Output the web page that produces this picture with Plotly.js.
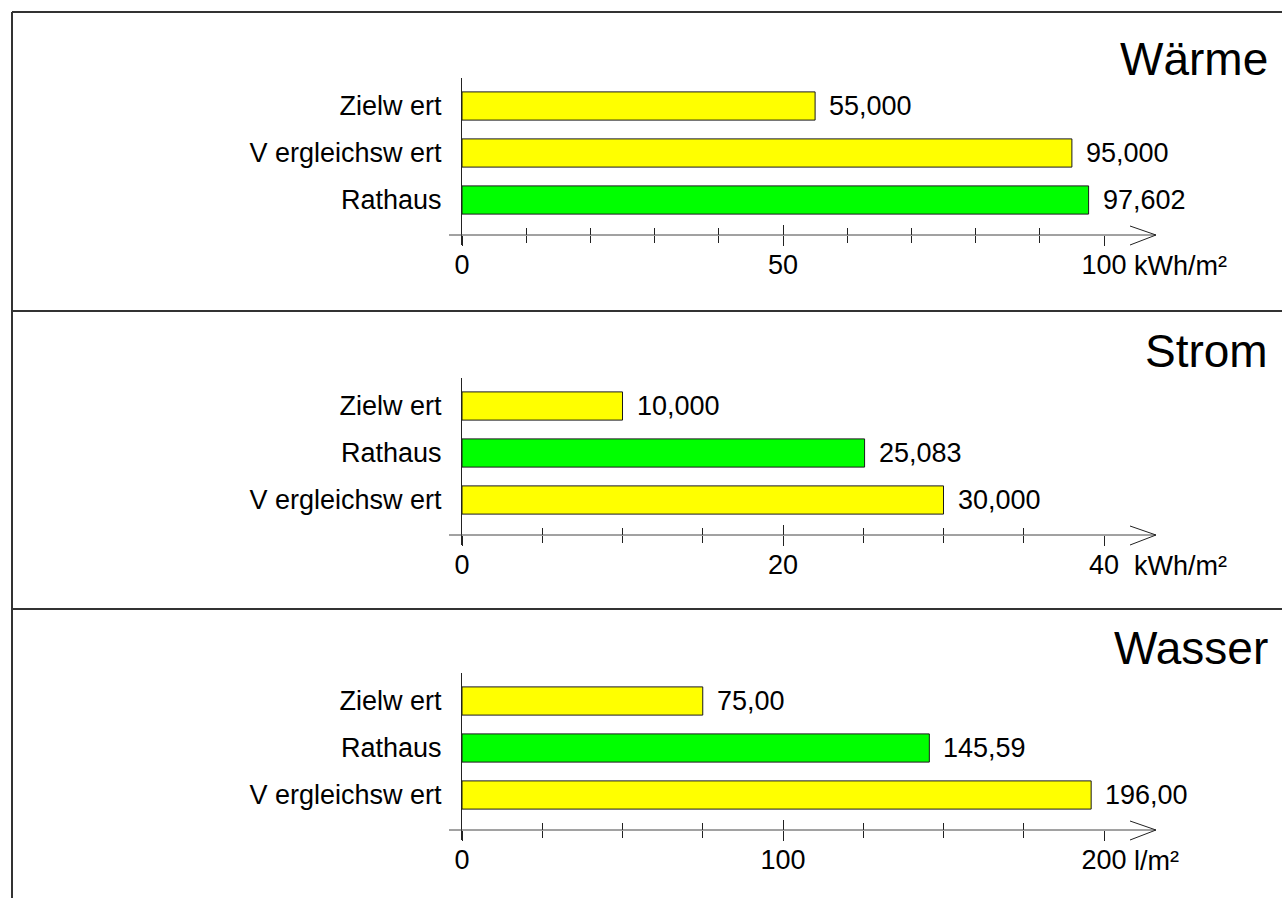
<!DOCTYPE html>
<html><head><meta charset="utf-8">
<script src="https://cdn.plot.ly/plotly-3.0.1.min.js"></script>
<style>html,body{margin:0;padding:0;background:#fff}</style>
</head><body><div id="chart" style="width:1282px;height:898px"></div>
<script>
// ---- data ----
const titles = ['Wärme', 'Strom', 'Wasser'];
const units = ['kWh/m²', 'kWh/m²', 'l/m²'];

const waermeCats = ['Zielw ert', 'V ergleichsw ert', 'Rathaus'];
const waermeVals = [55, 95, 97.602];
const waermeLabels = ['55,000', '95,000', '97,602'];

const stromCats = ['Zielw ert', 'Rathaus', 'V ergleichsw ert'];
const stromVals = [10, 25.083, 30];
const stromLabels = ['10,000', '25,083', '30,000'];

const wasserCats = ['Zielw ert', 'Rathaus', 'V ergleichsw ert'];
const wasserVals = [75, 145.59, 196];
const wasserLabels = ['75,00', '145,59', '196,00'];

const axisMax = [100, 40, 200];
const majorTicks = [[0, 50, 100], [0, 20, 40], [0, 100, 200]];
const minorStep = [10, 5, 25];

// ---- layout (pixels) ----
const W = 1282, H = 898;
const X0 = 462, X1 = 1104;
const FONT = 'Liberation Sans, Arial, sans-serif';
const topCenters = [106, 406, 701];
const titleY = [59, 351, 648];
const SP = 47;
const px = v => v / W;
const py = v => 1 - v / H;

const panels = [
  {cats: waermeCats, vals: waermeVals, labels: waermeLabels},
  {cats: stromCats, vals: stromVals, labels: stromLabels},
  {cats: wasserCats, vals: wasserVals, labels: wasserLabels}
];

const data = [];
const layout = {
  width: W, height: H,
  margin: {l: 0, r: 0, t: 0, b: 0},
  paper_bgcolor: '#fff', plot_bgcolor: 'rgba(0,0,0,0)',
  showlegend: false, hovermode: false,
  font: {family: FONT, size: 27, color: '#000'},
  annotations: [], shapes: []
};

const lineCol = '#333';
function seg(x0, y0, x1, y1, w, c) {
  layout.shapes.push({type: 'line', xref: 'paper', yref: 'paper',
    x0: px(x0), y0: py(y0), x1: px(x1), y1: py(y1),
    line: {color: c || lineCol, width: w || 1}});
}

panels.forEach((p, i) => {
  const n = i + 1;
  const xa = n === 1 ? 'x' : 'x' + n;
  const ya = n === 1 ? 'y' : 'y' + n;
  const xov = 'x' + (n + 3);
  const xKey = n === 1 ? 'xaxis' : 'xaxis' + n;
  const yKey = n === 1 ? 'yaxis' : 'yaxis' + n;
  const ovKey = 'xaxis' + (n + 3);
  const c0 = topCenters[i];
  const T = c0 - 28, B = c0 + 2 * SP + 45, axisY = c0 + 2 * SP + 35;

  data.push({
    type: 'bar', orientation: 'h', x: p.vals, y: p.cats,
    xaxis: xa, yaxis: ya, width: 0.6,
    marker: {color: p.cats.map(c => c === 'Rathaus' ? '#00ff00' : '#ffff00'),
             line: {color: '#1a1a1a', width: 1}},
    hoverinfo: 'skip'
  });
  // empty trace so the overlaying tick axis (upper tick halves) is drawn
  data.push({type: 'scatter', x: [], y: [], xaxis: xov, yaxis: ya, hoverinfo: 'skip'});

  const common = {
    domain: [px(X0), px(X1)], range: [0, axisMax[i]],
    anchor: 'free', position: py(axisY), side: 'bottom',
    showgrid: false, zeroline: false, showline: false, fixedrange: true,
    tickcolor: '#222', tickwidth: 1, ticklen: 10,
    tickmode: 'array', tickvals: majorTicks[i]
  };
  layout[xKey] = Object.assign({}, common, {
    ticks: 'outside', ticktext: majorTicks[i].map(String),
    tickfont: {family: FONT, size: 27, color: '#000'},
    ticklabelstandoff: -4,
    minor: {dtick: minorStep[i], ticks: 'outside', ticklen: 7, tickcolor: '#222', tickwidth: 1, showgrid: false}
  });
  layout[ovKey] = Object.assign({}, common, {
    overlaying: xa, ticks: 'inside', showticklabels: false,
    minor: {dtick: minorStep[i], ticks: 'inside', ticklen: 7, tickcolor: '#222', tickwidth: 1, showgrid: false}
  });
  layout[yKey] = {
    domain: [py(B), py(T)], anchor: xa, type: 'category',
    categoryorder: 'array', categoryarray: p.cats.slice().reverse(),
    range: [-45 / SP, 2 + 28 / SP],
    showline: true, linecolor: '#222', linewidth: 1,
    ticks: '', showgrid: false, zeroline: false, fixedrange: true,
    tickfont: {family: FONT, size: 27, color: '#000'},
    ticklabelstandoff: 14
  };

  // value labels
  p.vals.forEach((v, k) => {
    layout.annotations.push({xref: xa, yref: ya, x: v, y: p.cats[k],
      text: p.labels[k], showarrow: false, xanchor: 'left', yanchor: 'middle',
      xshift: 12, font: {family: FONT, size: 27, color: '#000'}});
  });
  // unit
  layout.annotations.push({xref: xa, yref: 'paper', x: axisMax[i], y: py(axisY + 31),
    text: units[i], showarrow: false, xanchor: 'left', yanchor: 'middle',
    xshift: 28, font: {family: FONT, size: 27, color: '#000'}});
  // title
  layout.annotations.push({xref: 'paper', yref: 'paper', x: px(1270), y: py(titleY[i]),
    text: titles[i], showarrow: false, xanchor: 'right', yanchor: 'middle',
    font: {family: FONT, size: 46, color: '#000'}});

  // axis line with arrow
  seg(449, axisY, 1156, axisY, 1, '#444');
  seg(1130, axisY - 9, 1156, axisY, 1, '#222');
  seg(1130, axisY + 10, 1156, axisY, 1, '#222');
});

// frame lines
seg(12, 12, 1282, 12, 2);
seg(12, 12, 12, 898, 2);
seg(12, 311, 1282, 311, 2);
seg(12, 609, 1282, 609, 2);

Plotly.newPlot('chart', data, layout, {displayModeBar: false, staticPlot: true});
</script>
</body></html>
